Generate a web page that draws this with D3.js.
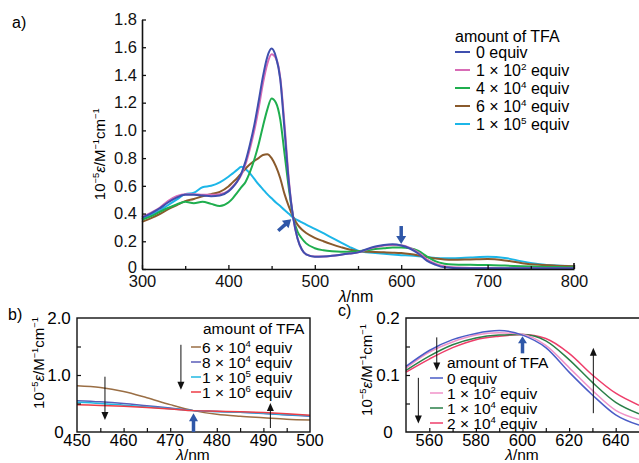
<!DOCTYPE html>
<html><head><meta charset="utf-8">
<script src="https://cdn.jsdelivr.net/npm/d3@7"></script>
<style>
html,body{margin:0;padding:0;background:#fff;}
svg{display:block;font-family:"Liberation Sans",Arial,Helvetica,sans-serif;}
</style></head>
<body>
<svg id="chart" width="639" height="463"></svg>
<script>
// ---------- Panel a data ----------
const lambdaA = [300,310,320,330,340,350,360,370,380,390,400,
  405,410,415,420,425,430,435,440,445,450,455,460,465,470,475,480,485,490,
  500,510,520,530,540,550,560,570,580,590,600,610,620,630,640,650,660,
  680,700,720,740,760,780,800];
const a_0equiv = [0.37,0.40,0.435,0.48,0.515,0.535,0.535,0.53,0.525,0.53,0.56,
  0.59,0.63,0.69,0.78,0.90,1.04,1.21,1.39,1.53,1.59,1.53,1.37,1.00,0.62,0.37,0.22,0.14,0.105,
  0.088,0.09,0.095,0.103,0.112,0.12,0.143,0.162,0.173,0.178,0.17,0.148,0.11,0.058,0.03,0.012,0.008,
  0.006,0.006,0.005,0.005,0.005,0.005,0.005];
const a_1e2 = [0.375,0.405,0.44,0.49,0.525,0.54,0.54,0.535,0.535,0.54,0.565,
  0.595,0.63,0.68,0.76,0.87,1.00,1.16,1.34,1.48,1.55,1.52,1.38,1.04,0.64,0.37,0.22,0.14,0.105,
  0.09,0.09,0.095,0.103,0.112,0.12,0.14,0.158,0.17,0.174,0.171,0.152,0.118,0.068,0.037,0.02,0.012,
  0.008,0.007,0.006,0.006,0.005,0.005,0.005];
const a_4e4 = [0.355,0.38,0.41,0.44,0.465,0.485,0.475,0.485,0.47,0.455,0.48,
  0.51,0.55,0.59,0.63,0.70,0.79,0.90,1.03,1.15,1.23,1.20,1.08,0.83,0.58,0.37,0.27,0.22,0.185,
  0.15,0.135,0.128,0.125,0.125,0.128,0.135,0.145,0.15,0.155,0.155,0.15,0.13,0.09,0.055,0.038,0.032,
  0.03,0.029,0.025,0.02,0.016,0.014,0.012];
const a_6e4 = [0.34,0.365,0.395,0.43,0.46,0.49,0.505,0.525,0.54,0.557,0.595,
  0.625,0.655,0.69,0.725,0.755,0.78,0.80,0.823,0.828,0.80,0.74,0.655,0.54,0.45,0.375,0.32,0.285,0.26,
  0.225,0.20,0.178,0.158,0.14,0.128,0.125,0.122,0.12,0.118,0.115,0.108,0.098,0.086,0.075,0.068,0.066,
  0.069,0.072,0.062,0.042,0.03,0.024,0.02];
const a_1e5 = [0.36,0.39,0.42,0.46,0.50,0.54,0.55,0.59,0.60,0.625,0.665,
  0.69,0.715,0.737,0.72,0.69,0.65,0.61,0.575,0.54,0.51,0.48,0.455,0.425,0.398,0.37,0.352,0.336,0.32,
  0.29,0.258,0.225,0.192,0.16,0.132,0.12,0.115,0.11,0.105,0.10,0.097,0.092,0.086,0.08,0.078,0.078,
  0.083,0.088,0.08,0.055,0.035,0.025,0.02];
const seriesNamesA = ["0 equiv","1 × 10|2| equiv","4 × 10|4| equiv","6 × 10|4| equiv","1 × 10|5| equiv"];
const colorsA = ["#3f4fae","#d86cb6","#1fae4e","#8a5a2c","#1cb6e8"];
const xTicksA = [300,400,500,600,700,800];
const yTicksA = [0,0.2,0.4,0.6,0.8,1.0,1.2,1.4,1.6,1.8];

// ---------- Panel b data ----------
const lambdaB = [450,455,460,465,470,475,480,485,490,495,500];
const b_6e4 = [0.81,0.78,0.71,0.60,0.48,0.375,0.31,0.275,0.25,0.225,0.21];
const b_8e4 = [0.55,0.53,0.50,0.46,0.42,0.375,0.36,0.345,0.325,0.30,0.275];
const b_1e5 = [0.52,0.50,0.47,0.44,0.41,0.375,0.36,0.345,0.33,0.305,0.285];
const b_1e6 = [0.48,0.465,0.45,0.43,0.405,0.375,0.365,0.355,0.34,0.32,0.295];
const seriesNamesB = ["6 × 10|4| equiv","8 × 10|4| equiv","1 × 10|5| equiv","1 × 10|6| equiv"];
const colorsB = ["#9a6e44","#5a5cb8","#22b8e2","#ee3c46"];
const xTicksB = [450,460,470,480,490,500];
const yTicksB = [0,1,2];

// ---------- Panel c data ----------
const lambdaC = [550,560,570,580,590,600,610,620,630,640,650];
const c_0equiv = [0.115,0.143,0.162,0.173,0.178,0.170,0.148,0.105,0.065,0.030,0.012];
const c_1e2 = [0.112,0.140,0.158,0.170,0.174,0.171,0.152,0.113,0.073,0.038,0.022];
const c_1e4 = [0.108,0.133,0.153,0.165,0.170,0.171,0.160,0.127,0.087,0.052,0.032];
const c_2e4 = [0.105,0.128,0.148,0.162,0.168,0.171,0.164,0.138,0.100,0.068,0.047];
const seriesNamesC = ["0 equiv","1 × 10|2| equiv","1 × 10|4| equiv","2 × 10|4| equiv"];
const colorsC = ["#4a5cc6","#f092c8","#2a7f48","#ee3e6a"];
const xTicksC = [560,580,600,620,640];
const yTicksC = [0,0.1,0.2];

const svg = d3.select("#chart");
const ARROW_BLUE = "#2f57a8";

function rich(sel, str, size) {
  const parts = str.split("|");
  let inSup = false;
  parts.forEach((p, i) => {
    const sup = i % 2 === 1;
    if (p === "") { return; }
    const ts = sel.append("tspan").text(p);
    if (sup) { ts.attr("font-size", size * 0.62).attr("dy", -size * 0.38); inSup = true; }
    else if (inSup) { ts.attr("dy", size * 0.38); inSup = false; }
  });
}
function yTitle(sel, size) {
  const parts = [["10",0],["−5",1],["ε",2],["/M",0],["−1",1],["cm",0],["−1",1]];
  let inSup = false;
  parts.forEach(([t, k]) => {
    const ts = sel.append("tspan").text(t);
    if (k === 1) { ts.attr("font-size", size*0.62).attr("dy", -size*0.38); inSup = true; }
    else { if (inSup) { ts.attr("dy", size*0.38); inSup = false; } if (k === 2) ts.attr("font-style","italic"); }
  });
}
function lambdaTitle(g, x, y, size) {
  const t = g.append("text").attr("x", x).attr("y", y).attr("text-anchor","middle").attr("font-size", size);
  t.append("tspan").attr("font-style","italic").text("λ");
  t.append("tspan").text("/nm");
}
function arrow(g, x1, y1, x2, y2, color, sw, hl, hw) {
  const dx = x2 - x1, dy = y2 - y1, L = Math.hypot(dx, dy);
  const ux = dx / L, uy = dy / L, px = -uy, py = ux;
  const bx = x2 - ux * hl, by = y2 - uy * hl;
  g.append("line").attr("x1", x1).attr("y1", y1).attr("x2", bx + ux).attr("y2", by + uy)
    .attr("stroke", color).attr("stroke-width", sw);
  g.append("path").attr("d", `M${x2},${y2}L${bx + px*hw/2},${by + py*hw/2}L${bx - px*hw/2},${by - py*hw/2}Z`)
    .attr("fill", color);
}

// ================= Panel a =================
(function(){
  const x = d3.scaleLinear().domain([300,800]).range([142,574]);
  const y = d3.scaleLinear().domain([0,1.8]).range([269,19.5]);
  const g = svg.append("g");
  const series = [a_0equiv, a_1e2, a_4e4, a_6e4, a_1e5];
  const line = d3.line().x((d,i)=>x(lambdaA[i])).y(d=>y(d)).curve(d3.curveMonotoneX);
  [4,3,2,1,0].forEach(k => {
    g.append("path").datum(series[k]).attr("d", line).attr("fill","none")
      .attr("stroke", colorsA[k]).attr("stroke-width", 2).attr("stroke-linejoin","round");
  });
  const ax = g.append("g").attr("transform","translate(0,269)")
    .call(d3.axisBottom(x).tickValues(xTicksA).tickSizeInner(-4).tickSizeOuter(0).tickPadding(6));
  g.append("g").attr("transform","translate(0,269)")
    .call(d3.axisBottom(x).tickValues([350,450,550,650,750]).tickSizeInner(-3).tickSizeOuter(0).tickFormat(""))
    .select(".domain").remove();
  const ay = g.append("g").attr("transform","translate(142,0)")
    .call(d3.axisLeft(y).tickValues(yTicksA).tickSizeInner(-4).tickSizeOuter(0).tickPadding(5)
      .tickFormat(v => v === 0 ? "0" : v.toFixed(1)));
  [ax, ay].forEach(a => {
    a.selectAll("text").attr("font-size", 16.5).attr("font-family","Liberation Sans, Arial, sans-serif").attr("fill","#111");
    a.select(".domain").attr("stroke","#111").attr("stroke-width",1.6);
  });
  ay.selectAll(".tick").filter(d => d === 0).select("text").attr("dy", "0.2em");
  g.selectAll(".tick line").attr("stroke","#111").attr("stroke-width",1.3);
  g.append("line").attr("x1", x(800)).attr("x2", x(800)).attr("y1", 269).attr("y2", 263).attr("stroke","#111").attr("stroke-width",1.6);
  const yt = g.append("text").attr("transform", `translate(105,${(y(0)+y(1.8))/2 + 10}) rotate(-90)`)
    .attr("text-anchor","middle").attr("font-size", 15);
  yTitle(yt, 15);
  lambdaTitle(g, 356, 302, 16);
  g.append("text").attr("x", 12).attr("y", 28).attr("font-size", 16).text("a)");
  const lg = g.append("g");
  lg.append("text").attr("x", 455).attr("y", 42).attr("font-size", 16).text("amount of TFA");
  seriesNamesA.forEach((nm, i) => {
    const yy = 52 + i * 18;
    lg.append("line").attr("x1", 455).attr("x2", 470).attr("y1", yy).attr("y2", yy)
      .attr("stroke", colorsA[i]).attr("stroke-width", 2);
    const t = lg.append("text").attr("x", 476).attr("y", yy + 6).attr("font-size", 16);
    rich(t, nm, 16);
  });
  arrow(g, x(600), y(0.31), x(600), y(0.18), ARROW_BLUE, 3.5, 8, 10);
  arrow(g, x(475) - 15, y(0.37) + 13, x(475) - 2, y(0.37) + 1.5, ARROW_BLUE, 3.5, 8, 10);
})();

// ================= Panel b =================
(function(){
  const x = d3.scaleLinear().domain([450,500]).range([77,310]);
  const y = d3.scaleLinear().domain([0,2]).range([432,318]);
  const g = svg.append("g");
  const series = [b_6e4, b_8e4, b_1e5, b_1e6];
  const line = d3.line().x((d,i)=>x(lambdaB[i])).y(d=>y(d)).curve(d3.curveMonotoneX);
  [0,1,2,3].forEach(k => {
    g.append("path").datum(series[k]).attr("d", line).attr("fill","none")
      .attr("stroke", colorsB[k]).attr("stroke-width", 1.5);
  });
  g.append("rect").attr("x", 77).attr("y", 318).attr("width", 310-77).attr("height", 432-318)
    .attr("fill","none").attr("stroke","#111").attr("stroke-width",1.4);
  const ax = g.append("g").attr("transform","translate(0,432)")
    .call(d3.axisBottom(x).tickValues(d3.range(455,500,5)).tickSizeInner(-4).tickSizeOuter(0).tickFormat(""));
  ax.select(".domain").remove();
  xTicksB.forEach(v => g.append("text").attr("x", x(v)).attr("y", 446).attr("text-anchor","middle")
      .attr("font-size", 16.5).text(v));
  const ay = g.append("g").attr("transform","translate(77,0)")
    .call(d3.axisLeft(y).tickValues([0.5,1,1.5]).tickSizeInner(-4).tickSizeOuter(0).tickFormat(""));
  ay.select(".domain").remove();
  yTicksB.forEach(v => g.append("text").attr("x", 59).attr("y", y(v) + 6).attr("text-anchor","middle")
      .attr("font-size", 17).text(v === 0 ? "0" : v.toFixed(1)));
  g.selectAll(".tick line").attr("stroke","#111").attr("stroke-width",1.2);
  const yt = g.append("text").attr("transform", `translate(44,${375 - 12}) rotate(-90)`)
    .attr("text-anchor","middle").attr("font-size", 15);
  yTitle(yt, 15);
  lambdaTitle(g, 193, 460, 15.5);
  g.append("text").attr("x", 8).attr("y", 320).attr("font-size", 16).text("b)");
  g.append("text").attr("x", 203).attr("y", 334).attr("font-size", 15.5).text("amount of TFA");
  seriesNamesB.forEach((nm, i) => {
    const yy = 347 + i * 15;
    g.append("line").attr("x1", 191).attr("x2", 201).attr("y1", yy).attr("y2", yy)
      .attr("stroke", colorsB[i]).attr("stroke-width", 1.5);
    const t = g.append("text").attr("x", 202).attr("y", yy + 5.5).attr("font-size", 15.5);
    rich(t, nm, 15.5);
  });
  arrow(g, x(456), y(0.97), x(456), y(0.21), "#111", 1, 8, 7);
  arrow(g, x(472.3), y(1.53), x(472.3), y(0.74), "#111", 1, 8, 7);
  arrow(g, x(491.5), y(0.07), x(491.5), y(0.51), "#111", 1, 8, 7);
  arrow(g, x(475), y(0), x(475), y(0.33), ARROW_BLUE, 3.5, 8, 9);
})();

// ================= Panel c =================
(function(){
  const x = d3.scaleLinear().domain([550,650]).range([406,639]);
  const y = d3.scaleLinear().domain([0,0.2]).range([432,318]);
  const g = svg.append("g");
  const series = [c_0equiv, c_1e2, c_1e4, c_2e4];
  const line = d3.line().x((d,i)=>x(lambdaC[i])).y(d=>y(d)).curve(d3.curveMonotoneX);
  [3,2,1,0].forEach(k => {
    g.append("path").datum(series[k]).attr("d", line).attr("fill","none")
      .attr("stroke", colorsC[k]).attr("stroke-width", 1.5);
  });
  g.append("path").attr("d", "M639,318H406V432H639")
    .attr("fill","none").attr("stroke","#111").attr("stroke-width",1.4);
  const ax = g.append("g").attr("transform","translate(0,432)")
    .call(d3.axisBottom(x).tickValues(d3.range(560,650,10)).tickSizeInner(-4).tickSizeOuter(0).tickFormat(""));
  ax.select(".domain").remove();
  xTicksC.forEach(v => g.append("text").attr("x", x(v)).attr("y", 446).attr("text-anchor","middle")
      .attr("font-size", 16.5).text(v));
  const ay = g.append("g").attr("transform","translate(406,0)")
    .call(d3.axisLeft(y).tickValues([0.05,0.1,0.15]).tickSizeInner(-4).tickSizeOuter(0).tickFormat(""));
  ay.select(".domain").remove();
  yTicksC.forEach(v => g.append("text").attr("x", 388).attr("y", y(v) + 6).attr("text-anchor","middle")
      .attr("font-size", 17).text(v === 0 ? "0" : v.toFixed(1)));
  g.selectAll(".tick line").attr("stroke","#111").attr("stroke-width",1.2);
  const yt = g.append("text").attr("transform", `translate(372,${375 - 5}) rotate(-90)`)
    .attr("text-anchor","middle").attr("font-size", 15);
  yTitle(yt, 15);
  lambdaTitle(g, 522, 460, 15.5);
  g.append("text").attr("x", 338).attr("y", 316).attr("font-size", 16).text("c)");
  g.append("text").attr("x", 447).attr("y", 368).attr("font-size", 15.5).text("amount of TFA");
  seriesNamesC.forEach((nm, i) => {
    const yy = 378 + i * 15;
    g.append("line").attr("x1", 430).attr("x2", 443).attr("y1", yy).attr("y2", yy)
      .attr("stroke", colorsC[i]).attr("stroke-width", 1.5);
    const t = g.append("text").attr("x", 447).attr("y", yy + 5.5).attr("font-size", 15.5);
    rich(t, nm, 15.5);
  });
  arrow(g, x(563.2), y(0.166), x(563.2), y(0.108), "#111", 1, 8, 7);
  arrow(g, x(555.3), y(0.095), x(555.3), y(0.015), "#111", 1, 8, 7);
  arrow(g, x(630.4), y(0.033), x(630.4), y(0.148), "#111", 1, 8, 7);
  arrow(g, x(600), y(0.138), x(600), y(0.168), ARROW_BLUE, 3.5, 7, 9);
})();
</script>
</body></html>
